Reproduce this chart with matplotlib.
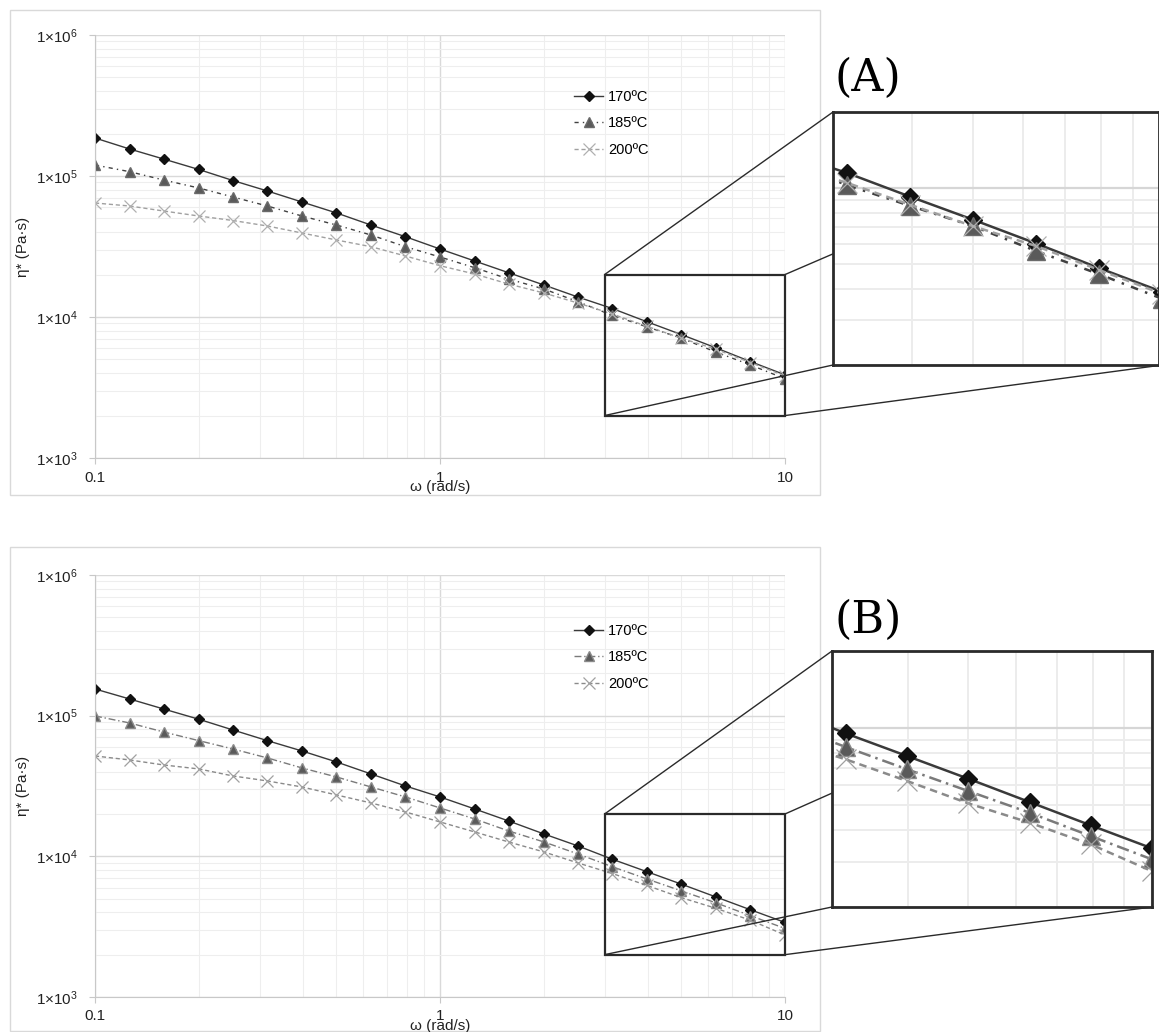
import matplotlib
matplotlib.use("Agg")
import matplotlib.pyplot as plt
from matplotlib.patches import Rectangle, ConnectionPatch
from matplotlib.ticker import FixedLocator, NullFormatter, FuncFormatter, LogLocator

plt.rcParams['font.family'] = ['Liberation Sans', 'DejaVu Sans']
plt.rcParams['mathtext.fontset'] = 'custom'
plt.rcParams['mathtext.rm'] = 'Liberation Sans'
plt.rcParams['mathtext.it'] = 'Liberation Sans:italic'
plt.rcParams['mathtext.default'] = 'regular'

# ---------------- data ----------------
omega = [0.1, 0.126, 0.158, 0.2, 0.251, 0.316, 0.398, 0.501, 0.631, 0.794,
         1.0, 1.26, 1.58, 2.0, 2.51, 3.16, 3.98, 5.01, 6.31, 7.94, 10.0]

labels = ["170ºC", "185ºC", "200ºC"]

eta_A_170 = [186000, 155400, 132000, 111200, 92900, 78300, 65400, 54700, 44900, 37100,
             30360, 24960, 20620, 16870, 13860, 11480, 9250, 7500, 6040, 4830, 3890]
eta_A_185 = [119700, 107300, 93700, 82200, 71000, 61260, 52030, 44930, 38150, 31520,
             26640, 22370, 18600, 15800, 12840, 10270, 8510, 7070, 5640, 4570, 3650]
eta_A_200 = [64350, 61260, 56470, 52030, 48350, 44200, 39420, 35170, 31520, 27080,
             23110, 20180, 17140, 14800, 12570, 10490, 8590, 7070, 5900, 4750, 3820]

eta_B_170 = [154800, 131400, 111600, 94300, 79140, 66430, 56120, 46880, 38520, 31650,
             26440, 21720, 17850, 14430, 11860, 9530, 7775, 6340, 5140, 4170, 3390]
eta_B_185 = [99520, 88750, 76590, 66430, 57990, 50050, 42500, 36670, 31130, 26440,
             22080, 18440, 15160, 12660, 10400, 8430, 6900, 5675, 4670, 3785, 3070]
eta_B_200 = [51710, 48430, 44630, 41810, 37280, 34350, 31130, 27320, 23960, 20680,
             17560, 14910, 12660, 10750, 8980, 7545, 6210, 5080, 4270, 3513, 2760]

xticks = [0.1, 1, 10]
xticklabels = ["0.1", "1", "10"]
yticks = [1e3, 1e4, 1e5, 1e6]
yticklabels = [r"$1{\times}10^{3}$", r"$1{\times}10^{4}$", r"$1{\times}10^{5}$", r"$1{\times}10^{6}$"]
zoom_x = (3, 10)
zoom_y = (2e3, 2e4)

# ---------------- layout helpers ----------------
W, H = 1159, 1032
fig = plt.figure(figsize=(W / 100, H / 100), dpi=100)


def rect(l, t, r, b):
    return [l / W, 1 - b / H, (r - l) / W, (b - t) / H]


styles_A = [
    dict(color='#3a3a3a', ls='-', marker='D', mfc='#111111', mec='#111111', ms=5.2),
    dict(color='#404040', ls=(0, (3, 3, 1, 3)), marker='^', mfc='#5a5a5a', mec='#6a6a6a', ms=7.5),
    dict(color='#a0a0a0', ls=(0, (3, 2)), marker='x', mfc='none', mec='#b0b0b0', ms=8, mew=0.9),
]
styles_B = [
    dict(color='#3a3a3a', ls='-', marker='D', mfc='#111111', mec='#111111', ms=5.2),
    dict(color='#7a7a7a', ls=(0, (5, 2, 1, 2)), marker='^', mfc='#5a5a5a', mec='#8a8a8a', ms=7.5),
    dict(color='#8a8a8a', ls=(0, (3, 2)), marker='x', mfc='none', mec='#a0a0a0', ms=8, mew=0.9),
]


def setup_main(ax):
    ax.set_xscale('log')
    ax.set_yscale('log')
    ax.set_xlim(0.1, 10)
    ax.set_ylim(1e3, 1e6)
    ax.xaxis.set_major_locator(FixedLocator(xticks))
    ax.xaxis.set_major_formatter(FuncFormatter(lambda v, p: xticklabels[xticks.index(v)] if v in xticks else ""))
    ax.yaxis.set_major_locator(FixedLocator(yticks))
    ax.yaxis.set_major_formatter(FuncFormatter(lambda v, p: yticklabels[yticks.index(v)] if v in yticks else ""))
    ax.xaxis.set_minor_locator(LogLocator(base=10, subs=range(2, 10)))
    ax.yaxis.set_minor_locator(LogLocator(base=10, subs=range(2, 10)))
    ax.xaxis.set_minor_formatter(NullFormatter())
    ax.yaxis.set_minor_formatter(NullFormatter())
    ax.grid(True, which='major', color='#d9d9d9', lw=1.0)
    ax.grid(True, which='minor', color='#eeeeee', lw=0.8)
    ax.set_axisbelow(True)
    for s in ['top', 'right']:
        ax.spines[s].set_visible(False)
    for s in ['left', 'bottom']:
        ax.spines[s].set_color('#c8c8c8')
    ax.tick_params(which='major', length=4, color='#c8c8c8', labelsize=11, labelcolor='#222222')
    ax.tick_params(axis='y', which='major', pad=8.5)
    ax.tick_params(axis='x', which='major', pad=5)
    ax.tick_params(which='minor', length=0)
    ax.set_ylabel("η* (Pa·s)", fontsize=11, color='#222222', labelpad=4)
    ax.set_xlabel("ω (rad/s)", fontsize=11, color='#222222', labelpad=-3)


def setup_inset(ax, xmax):
    ax.set_xscale('log')
    ax.set_yscale('log')
    ax.set_xlim(zoom_x[0], xmax)
    ax.set_ylim(*zoom_y)
    ax.xaxis.set_major_locator(FixedLocator([10]))
    ax.yaxis.set_major_locator(FixedLocator([1e4]))
    ax.xaxis.set_minor_locator(LogLocator(base=10, subs=range(2, 10)))
    ax.yaxis.set_minor_locator(LogLocator(base=10, subs=range(2, 10)))
    ax.xaxis.set_major_formatter(NullFormatter())
    ax.yaxis.set_major_formatter(NullFormatter())
    ax.xaxis.set_minor_formatter(NullFormatter())
    ax.yaxis.set_minor_formatter(NullFormatter())
    ax.tick_params(which='both', length=0)
    ax.grid(True, which='major', color='#d6d6d6', lw=1.6)
    ax.grid(True, which='minor', color='#ececec', lw=1.4)
    ax.set_axisbelow(True)
    ax.set_facecolor('white')
    for s in ax.spines.values():
        s.set_color('#2a2a2a')
        s.set_linewidth(2.0)
    ax.set_zorder(10)


def draw_series(ax, series, styles, scale=1.0):
    handles = []
    for y, st, lab in zip(series, styles, labels):
        st = dict(st)
        st['ms'] = st['ms'] * scale
        lw = 1.0 * scale
        h, = ax.plot(omega, y, lw=lw, label=lab, **st)
        handles.append(h)
    return handles


panels = [
    dict(main=(95, 35, 785, 458), inset=(833, 112, 1159, 365), inset_xmax=9.88,
         frame=(10, 10, 820, 495), series=[eta_A_170, eta_A_185, eta_A_200], styles=styles_A,
         leg=(574, 90), tag="(A)", tag_xy=(834, 78)),
    dict(main=(95, 575, 785, 997), inset=(832, 651, 1152, 907), inset_xmax=10.0,
         frame=(10, 547, 820, 1031), series=[eta_B_170, eta_B_185, eta_B_200], styles=styles_B,
         leg=(574, 624), tag="(B)", tag_xy=(834, 620)),
]

for p in panels:
    l, t, r, b = p['frame']
    fig.add_artist(Rectangle((l / W, 1 - b / H), (r - l) / W, (b - t) / H, transform=fig.transFigure,
                             fill=False, ec='#d9d9d9', lw=1.0, zorder=-1))
    ax = fig.add_axes(rect(*p['main']))
    setup_main(ax)
    handles = draw_series(ax, p['series'], p['styles'])
    ax.add_patch(Rectangle((zoom_x[0], zoom_y[0]), zoom_x[1] - zoom_x[0], zoom_y[1] - zoom_y[0],
                           fill=False, ec='#2a2a2a', lw=1.6, zorder=6, clip_on=False))
    lx, ly = p['leg']
    ax.legend(handles=handles, loc='upper left', bbox_to_anchor=(lx / W, 1 - ly / H),
              bbox_transform=fig.transFigure, frameon=False, fontsize=10.5,
              handlelength=2.0, handletextpad=0.35, labelspacing=0.85, borderpad=0, borderaxespad=0)

    ins = fig.add_axes(rect(*p['inset']))
    setup_inset(ins, p['inset_xmax'])
    draw_series(ins, p['series'], p['styles'], scale=1.8)

    # connector lines (corner to corner), drawn beneath the inset
    for (xa, ya) in [(zoom_x[0], zoom_y[1]), (zoom_x[1], zoom_y[1]), (zoom_x[0], zoom_y[0]), (zoom_x[1], zoom_y[0])]:
        cp = ConnectionPatch(xyA=(xa, ya), coordsA=ax.transData, xyB=(xa, ya), coordsB=ins.transData,
                             color='#2a2a2a', lw=1.0, zorder=5)
        fig.add_artist(cp)

    tx, ty = p['tag_xy']
    fig.text(tx / W, 1 - ty / H, p['tag'], fontsize=32, family='DejaVu Serif', ha='left', va='center')

fig.savefig("out.png", dpi=100)
